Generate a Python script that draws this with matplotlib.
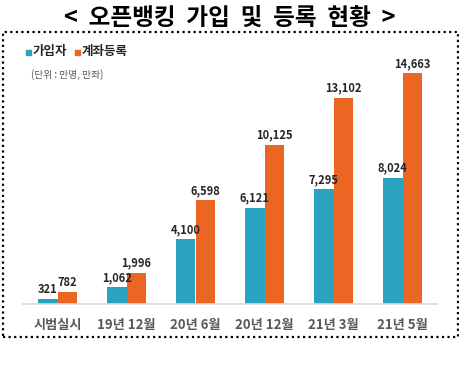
import matplotlib
matplotlib.use("Agg")
import matplotlib.pyplot as plt
from matplotlib.patches import Rectangle
import numpy as np

plt.rcParams['font.family'] = ['Noto Sans CJK KR', 'DejaVu Sans']

categories = ['시범실시', '19년 12월', '20년 6월', '20년 12월', '21년 3월', '21년 5월']
subscribers = [321, 1062, 4100, 6121, 7295, 8024]
registrations = [782, 1996, 6598, 10125, 13102, 14663]
series_names = ['가입자', '계좌등록']
title = '<  오픈뱅킹  가입  및  등록  현황  >'
unit_text = '(단위 : 만명, 만좌)'

teal = '#2AA3C1'
orange = '#EB6622'

fig = plt.figure(figsize=(4.6, 3.74), dpi=100)
ax = fig.add_axes([23/460, 70/374, 414/460, 252/374])

x = np.arange(len(categories))
w = 0.285
b1 = ax.bar(x - w/2, subscribers, w, color=teal)
b2 = ax.bar(x + w/2, registrations, w, color=orange)

for rect, v in zip(b1, subscribers):
    ax.text(rect.get_x() + rect.get_width()/2, v + 180, f'{v:,}', ha='center', va='bottom',
            fontsize=8, fontweight='bold', color='#262626')
for rect, v in zip(b2, registrations):
    ax.text(rect.get_x() + rect.get_width()/2, v + 180, f'{v:,}', ha='center', va='bottom',
            fontsize=8, fontweight='bold', color='#262626')

ax.set_xlim(-0.5, 5.5)
ax.set_ylim(0, 16000)
ax.set_xticks(x)
ax.set_xticklabels(categories, fontsize=9.5, color='#595959', fontweight='bold')
ax.tick_params(axis='x', length=0, pad=10)
ax.set_yticks([])
for s in ['top', 'right', 'left']:
    ax.spines[s].set_visible(False)
ax.spines['bottom'].set_color('#d9d9d9')
ax.spines['bottom'].set_linewidth(1.2)

# dotted frame
frame = Rectangle((3/460, 1 - 337/374), 455/460, 305/374, transform=fig.transFigure,
                  fill=False, edgecolor='black', linestyle=(0, (1, 1.5)), linewidth=1.6)
fig.patches.append(frame)

fig.text(0.5, 1 - 18/374, title, ha='center', va='center', fontsize=17, fontweight='bold', color='black')

# legend
fig.patches.append(Rectangle((26/460, 1 - 55/374), 5/460, 5/374, transform=fig.transFigure, color=teal))
fig.text(33/460, 1 - 52/374, series_names[0], ha='left', va='center', fontsize=9, fontweight='bold', color='#262626')
fig.patches.append(Rectangle((75/460, 1 - 55/374), 5/460, 5/374, transform=fig.transFigure, color=orange))
fig.text(82/460, 1 - 52/374, series_names[1], ha='left', va='center', fontsize=9, fontweight='bold', color='#262626')
fig.text(31/460, 1 - 75/374, unit_text, ha='left', va='center', fontsize=7, color='#595959')

fig.savefig('out.png', dpi=100)
